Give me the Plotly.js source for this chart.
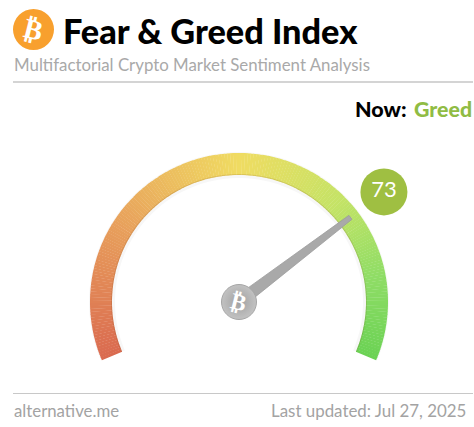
<!DOCTYPE html>
<html><head><meta charset="utf-8">
<script src="https://cdn.plot.ly/plotly-3.0.1.min.js"></script>
<style>html,body{margin:0;padding:0;background:#fff;overflow:hidden}#c{width:474px;height:427px}</style>
</head><body><div id="c"></div>
<script>
const indexValue = 73;
const classification = "Greed";
const titleText = "Fear &amp; Greed Index";
const subtitleText = "Multifactorial Crypto Market Sentiment Analysis";
const sourceText = "alternative.me";
const updatedText = "Last updated: Jul 27, 2025";
const gaugeStops = [0, 25, 50, 70, 85, 100];
const gaugeColors = ["#da6a50", "#e8a15c", "#f0dc62", "#c4e366", "#90dd66", "#6bd254"];

const W = 474, H = 427, CX = 239, CY = 302, R = 210;
const START = 203, SWEEP = 226;
const angle = v => START - SWEEP * v / 100;
const INNER = 127, OUTER = 149;

const segValues = [];
for (let v = 0; v < 100; v += 0.5) segValues.push(v + 0.25);
const colorscale = gaugeStops.map((s, i) => [s / 100, gaugeColors[i]]);

const ring = {
  type: "barpolar", hoverinfo: "skip",
  r: segValues.map(() => OUTER - INNER), base: segValues.map(() => INNER),
  theta: segValues.map(angle), width: segValues.map(() => SWEEP * 0.5 / 100 + 0.12),
  marker: { color: segValues, colorscale, cmin: 0, cmax: 100, showscale: false, line: { width: 0 } }
};
const band = (base, r, color) => ({
  type: "barpolar", hoverinfo: "skip", r: [r], base: [base], theta: [angle(50)], width: [SWEEP],
  marker: { color, line: { width: 0 } }
});
const tipA = angle(indexValue) - 0.8;
const wedge = (rad, half) => Math.atan2(half, rad) * 180 / Math.PI;
const needleR = [10, 140, 140, 10, 10];
const needleT = [tipA + wedge(10, 7.5), tipA + wedge(140, 2.5), tipA - wedge(140, 2.5), tipA - wedge(10, 7.5), tipA + wedge(10, 7.5)];
const needle = {
  type: "scatterpolar", mode: "lines", fill: "toself", fillcolor: "#a9a9a9", hoverinfo: "skip",
  r: needleR, theta: needleT, line: { color: "#9c9c9c", width: 0.8 }
};
const hub = {
  type: "scatterpolar", mode: "markers", hoverinfo: "skip", r: [0], theta: [0], cliponaxis: false,
  marker: { size: 35, color: "#c2c2c2", line: { color: "#a6a6a6", width: 1 },
            gradient: { type: "radial", color: "#a0a0a0" } }
};
const bubble = {
  type: "scatterpolar", mode: "markers+text", hoverinfo: "skip", r: [182], theta: [tipA], cliponaxis: false,
  marker: { size: 47, color: "#9fbf42", line: { width: 0 } },
  text: [String(indexValue)], textposition: "middle center",
  textfont: { family: "Lato, sans-serif", size: 22, weight: 400, color: "#fff" }
};

const px = x => x / W, py = y => 1 - y / H;
const note = (text, x, y, xanchor, size, color, weight, family, extra) => Object.assign({
  text, x: px(x), y: py(y), xref: "paper", yref: "paper", xanchor, yanchor: "middle",
  showarrow: false, font: { family: family || "Lato, sans-serif", size, color, weight: weight || 400 }
}, extra || {});

const layout = {
  width: W, height: H, margin: { l: 0, r: 0, t: 0, b: 0 }, paper_bgcolor: "#fff", showlegend: false,
  polar: {
    bgcolor: "rgba(0,0,0,0)", sector: [-30, 210],
    domain: { x: [px(CX - R), px(CX + R)], y: [py(CY + R * 0.5), py(CY - R)] },
    radialaxis: { visible: false, range: [0, R] },
    angularaxis: { visible: false, rotation: 0, direction: "counterclockwise", thetaunit: "degrees" }
  },
  shapes: [
    { type: "circle", xref: "paper", yref: "paper", x0: px(13), x1: px(54), y0: py(50), y1: py(9),
      fillcolor: "#f8a02e", line: { width: 0 } },
    { type: "line", xref: "paper", yref: "paper", x0: px(13), x1: px(473), y0: py(82), y1: py(82),
      line: { color: "#a9a9a9", width: 1 } },
    { type: "line", xref: "paper", yref: "paper", x0: px(13), x1: px(473), y0: py(393.5), y1: py(393.5),
      line: { color: "#c8c8c8", width: 1 } }
  ],
  annotations: [
    note("₿", 33.5, 29.5, "center", 28, "#fff", 700, "DejaVu Sans", { textangle: 14 }),
    note(titleText, 61, 31, "left", 34.3, "#000", 900),
    note(subtitleText, 12, 64.5, "left", 16.85, "#a9a9a9"),
    note("Now:", 408.5, 109, "right", 21.5, "#000", 900),
    note(classification, 473.5, 109, "right", 21.3, "#90bc44", 900),
    note("₿", CX, CY, "center", 23, "#fff", 700, "DejaVu Sans", { textangle: 14 }),
    note(sourceText, 12, 410, "left", 16.8, "#a3a3a3"),
    note(updatedText, 467.5, 410, "right", 16.9, "#a3a3a3")
  ]
};
const traces = [
  band(INNER - 3, 3, "rgba(0,0,0,0.03)"),
  band(OUTER, 1, "rgba(0,0,0,0.03)"),
  ring,
  band(INNER, 1, "rgba(120,70,20,0.16)"),
  needle, hub, bubble
];
Plotly.newPlot("c", traces, layout, { staticPlot: true });
</script></body></html>
